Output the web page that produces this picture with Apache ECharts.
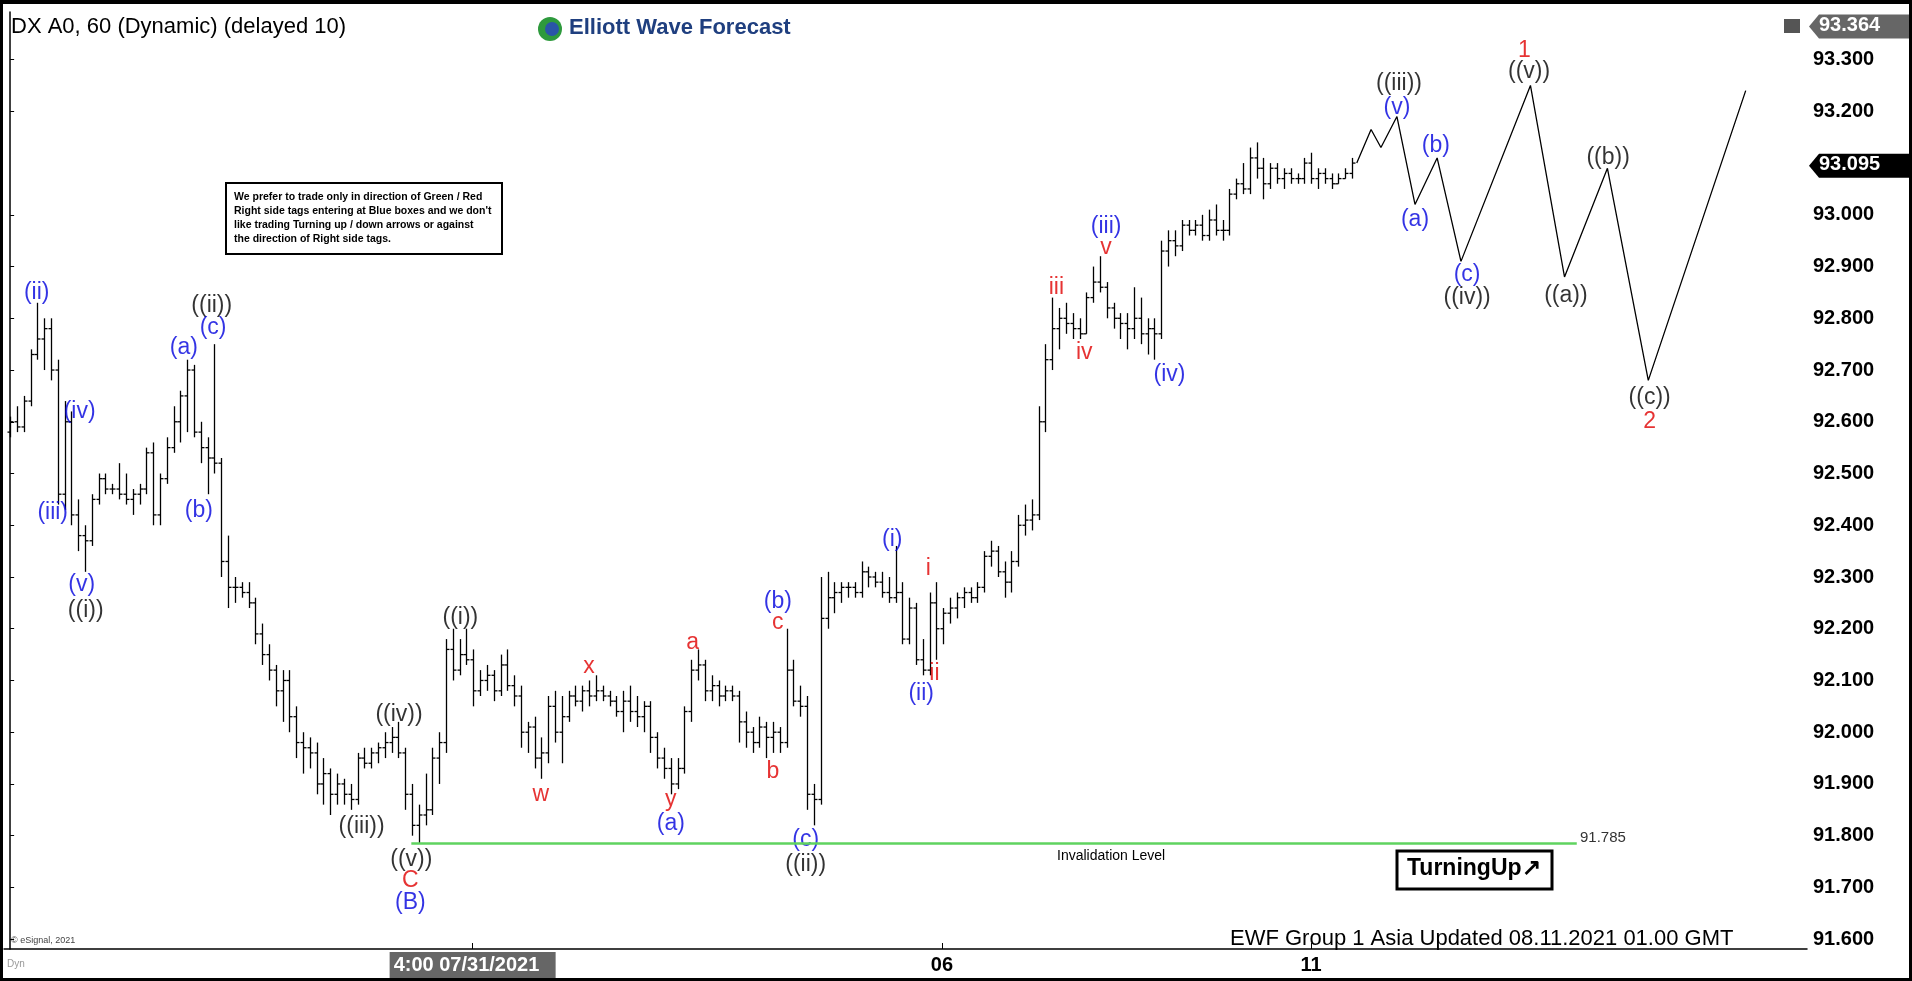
<!DOCTYPE html>
<html><head><meta charset="utf-8">
<script src="https://cdn.jsdelivr.net/npm/echarts@6/dist/echarts.min.js"></script>
<style>html,body{margin:0;padding:0;background:#000;}#c{position:absolute;left:3px;top:4px;width:1906px;height:974px;}</style>
</head><body><div id="c"></div>
<script>
// OHLC hourly bars [open, high, low, close]
const ohlc = [
[92.58,92.61,92.57,92.60],[92.60,92.63,92.58,92.59],[92.59,92.65,92.58,92.64],[92.64,92.74,92.63,92.73],[92.73,92.83,92.72,92.76],
[92.76,92.80,92.70,92.78],[92.78,92.80,92.68,92.70],[92.70,92.72,92.44,92.46],[92.46,92.64,92.43,92.60],[92.60,92.62,92.40,92.42],
[92.42,92.45,92.35,92.38],[92.38,92.40,92.31,92.37],[92.37,92.46,92.36,92.45],[92.45,92.50,92.44,92.49],[92.49,92.50,92.46,92.47],
[92.47,92.48,92.46,92.47],[92.47,92.52,92.45,92.46],[92.46,92.50,92.44,92.45],[92.45,92.47,92.42,92.46],[92.46,92.48,92.44,92.47],
[92.47,92.55,92.46,92.54],[92.54,92.56,92.40,92.42],[92.42,92.50,92.40,92.49],[92.49,92.57,92.48,92.55],[92.55,92.63,92.54,92.60],
[92.60,92.66,92.56,92.65],[92.65,92.72,92.58,92.70],[92.70,92.71,92.57,92.58],[92.58,92.60,92.52,92.55],[92.55,92.57,92.46,92.53],
[92.53,92.75,92.50,92.52],[92.52,92.53,92.30,92.33],[92.33,92.38,92.24,92.28],[92.28,92.30,92.25,92.28],[92.28,92.29,92.26,92.27],
[92.27,92.29,92.24,92.25],[92.25,92.26,92.17,92.19],[92.19,92.21,92.13,92.15],[92.15,92.17,92.10,92.12],[92.12,92.13,92.05,92.08],
[92.08,92.12,92.02,92.10],[92.10,92.12,92.00,92.03],[92.03,92.05,91.95,91.98],[91.98,92.00,91.92,91.97],[91.97,91.99,91.93,91.96],
[91.96,91.98,91.88,91.90],[91.90,91.95,91.86,91.92],[91.92,91.93,91.84,91.88],[91.88,91.92,91.86,91.90],[91.90,91.91,91.86,91.88],
[91.88,91.90,91.85,91.87],[91.87,91.96,91.86,91.95],[91.95,91.97,91.93,91.94],[91.94,91.97,91.93,91.96],[91.96,91.98,91.94,91.97],
[91.97,92.00,91.95,91.98],[91.98,92.01,91.96,91.99],[91.99,92.02,91.95,91.96],[91.96,91.97,91.85,91.88],[91.88,91.90,91.80,91.82],
[91.82,91.86,91.785,91.84],[91.84,91.92,91.82,91.85],[91.85,91.97,91.84,91.95],[91.95,92.00,91.90,91.98],[91.98,92.18,91.96,92.16],
[92.16,92.20,92.10,92.12],[92.12,92.18,92.11,92.15],[92.15,92.20,92.13,92.14],[92.14,92.16,92.05,92.08],[92.08,92.12,92.07,92.10],
[92.10,92.13,92.08,92.11],[92.11,92.12,92.06,92.08],[92.08,92.15,92.07,92.13],[92.13,92.16,92.08,92.09],[92.09,92.11,92.05,92.07],
[92.07,92.09,91.97,92.00],[92.00,92.02,91.96,92.01],[92.01,92.03,91.93,91.95],[91.95,91.99,91.91,91.96],[91.96,92.07,91.94,92.05],
[92.05,92.08,91.98,92.00],[92.00,92.07,91.94,92.03],[92.03,92.08,92.02,92.07],[92.07,92.09,92.05,92.06],[92.06,92.09,92.04,92.08],
[92.08,92.10,92.05,92.07],[92.07,92.11,92.06,92.08],[92.08,92.09,92.06,92.07],[92.07,92.08,92.05,92.06],[92.06,92.07,92.03,92.04],
[92.04,92.08,92.00,92.06],[92.06,92.09,92.02,92.04],[92.04,92.07,92.01,92.03],[92.03,92.06,92.00,92.05],[92.05,92.06,91.96,91.99],
[91.99,92.00,91.93,91.95],[91.95,91.97,91.91,91.93],[91.93,91.95,91.88,91.90],[91.90,91.95,91.89,91.93],[91.93,92.05,91.92,92.04],
[92.04,92.14,92.02,92.12],[92.12,92.16,92.10,92.13],[92.13,92.14,92.06,92.08],[92.08,92.11,92.06,92.09],[92.09,92.10,92.05,92.07],
[92.07,92.09,92.06,92.08],[92.08,92.09,92.06,92.07],[92.07,92.08,91.98,92.02],[92.02,92.04,91.97,92.00],[92.00,92.01,91.96,91.98],
[91.98,92.03,91.97,92.01],[92.01,92.02,91.95,91.99],[91.99,92.02,91.96,92.00],[92.00,92.01,91.96,91.98],[91.98,92.20,91.97,92.12],
[92.12,92.14,92.05,92.06],[92.06,92.09,92.03,92.05],[92.05,92.07,91.85,91.88],[91.88,91.90,91.82,91.87],[91.87,92.30,91.86,92.22],
[92.22,92.31,92.20,92.26],[92.26,92.29,92.23,92.27],[92.27,92.29,92.25,92.28],[92.28,92.29,92.26,92.28],[92.28,92.29,92.26,92.27],
[92.27,92.33,92.26,92.31],[92.31,92.32,92.28,92.30],[92.30,92.31,92.28,92.29],[92.29,92.31,92.26,92.27],[92.27,92.30,92.25,92.26],
[92.26,92.36,92.25,92.27],[92.27,92.29,92.17,92.18],[92.18,92.26,92.17,92.24],[92.24,92.25,92.13,92.14],[92.14,92.18,92.11,92.12],
[92.12,92.27,92.11,92.25],[92.25,92.29,92.14,92.20],[92.20,92.24,92.17,92.23],[92.23,92.26,92.21,92.24],[92.24,92.27,92.22,92.26],
[92.26,92.28,92.24,92.27],[92.27,92.28,92.25,92.26],[92.26,92.29,92.25,92.28],[92.28,92.35,92.27,92.34],[92.34,92.37,92.32,92.35],
[92.35,92.36,92.30,92.31],[92.31,92.33,92.26,92.29],[92.29,92.35,92.27,92.33],[92.33,92.42,92.32,92.40],[92.40,92.44,92.38,92.41],
[92.41,92.45,92.39,92.42],[92.42,92.63,92.41,92.60],[92.60,92.75,92.58,92.72],[92.72,92.84,92.70,92.78],[92.78,92.82,92.74,92.80],
[92.80,92.83,92.77,92.79],[92.79,92.81,92.76,92.78],[92.78,92.80,92.76,92.77],[92.77,92.85,92.77,92.84],[92.84,92.90,92.83,92.87],
[92.87,92.92,92.85,92.86],[92.86,92.87,92.80,92.82],[92.82,92.83,92.78,92.80],[92.80,92.81,92.76,92.79],[92.79,92.81,92.74,92.78],
[92.78,92.86,92.76,92.80],[92.80,92.84,92.75,92.77],[92.77,92.80,92.73,92.78],[92.78,92.80,92.72,92.77],[92.77,92.95,92.76,92.93],
[92.93,92.97,92.90,92.95],[92.95,92.97,92.92,92.94],[92.94,92.99,92.93,92.98],[92.98,92.99,92.96,92.97],[92.97,92.99,92.96,92.98],
[92.98,93.00,92.95,92.96],[92.96,93.01,92.95,92.99],[92.99,93.02,92.96,92.97],[92.97,92.99,92.95,92.97],[92.97,93.05,92.96,93.04],
[93.04,93.07,93.03,93.06],[93.06,93.10,93.04,93.05],[93.05,93.13,93.04,93.11],[93.11,93.14,93.07,93.09],[93.09,93.11,93.03,93.06],
[93.06,93.10,93.05,93.09],[93.09,93.10,93.06,93.07],[93.07,93.09,93.05,93.08],[93.08,93.09,93.06,93.07],[93.07,93.08,93.06,93.07],
[93.07,93.11,93.06,93.10],[93.10,93.12,93.06,93.07],[93.07,93.09,93.05,93.08],[93.08,93.09,93.06,93.07],[93.07,93.08,93.05,93.06],
[93.06,93.08,93.06,93.07],[93.07,93.09,93.07,93.08],[93.08,93.11,93.07,93.10]
];
// projected wave path [bar index, price]
const projection = [[197.7,93.10],[199.8,93.165],[201.25,93.13],[203.6,93.19],[206.25,93.02],[209.5,93.11],[213,92.91],[223.2,93.25],[228.2,92.88],[234.5,93.09],[240.5,92.68],[254.8,93.24]];
const invalidation = 91.785;
const invalidRange = [58.9, 230];
const xTicks = [[67.9,'4:00 07/31/2021'],[136.8,'06'],[191,'11']];
const yTicks = [91.6,91.7,91.8,91.9,92.0,92.1,92.2,92.3,92.4,92.5,92.6,92.7,92.8,92.9,93.0,93.2,93.3];
const lastPrice = 93.095, highTag = 93.364;
// wave labels [text, bar index, price, color]
const B='#0000dd',R='#e00000',K='#000';
const waveLabels = [
['(ii)',3.9,92.85,B],['(iv)',10.2,92.62,B],['(iii)',6.25,92.425,B],['(v)',10.5,92.286,B],['((i))',11.1,92.234,K],
['(a)',25.5,92.744,B],['((ii))',29.6,92.824,K],['(c)',29.8,92.781,B],['(b)',27.7,92.428,B],
['((iv))',57.1,92.034,K],['((iii))',51.6,91.817,K],['((v))',58.9,91.753,K],['C',58.75,91.713,R],['(B)',58.75,91.671,B],
['((i))',66.1,92.222,K],['w',77.9,91.88,R],['x',85,92.126,R],['y',97,91.869,R],['(a)',97,91.824,B],
['a',100.2,92.173,R],['c',112.7,92.211,R],['(b)',112.7,92.252,B],['b',112,91.923,R],['(c)',116.8,91.793,B],['((ii))',116.8,91.744,K],
['(i)',129.5,92.373,B],['i',134.8,92.317,R],['ii',135.7,92.114,R],['(ii)',133.75,92.074,B],
['iii',153.6,92.859,R],['iv',157.7,92.734,R],['(iii)',160.9,92.977,B],['v',160.9,92.937,R],['(iv)',170.2,92.692,B],
['((iii))',203.9,93.253,K],['(v)',203.6,93.208,B],['(a)',206.25,92.991,B],['(b)',209.3,93.133,B],['(c)',213.9,92.885,B],['((iv))',213.9,92.84,K],
['1',222.3,93.317,R],['((v))',223,93.276,K],['((b))',234.6,93.111,K],['((a))',228.4,92.843,K],['((c))',240.7,92.647,K],['2',240.7,92.6,R]
];

const chart = echarts.init(document.getElementById('c'));
const F = '"Liberation Sans", Arial, sans-serif';
const xmap = {}; xTicks.forEach((t,i)=>xmap[t[0]]= i===0 ? '' : t[1]);
const option = {
  backgroundColor:'#fff', animation:false,
  grid:{left:1,right:102,top:8,bottom:29},
  xAxis:{type:'value',min:-0.9,max:263.8,splitLine:{show:false},
    axisLine:{onZero:false,lineStyle:{color:'#000',width:1.5}},
    axisTick:{customValues:xTicks.map(t=>t[0]),length:-6,lineStyle:{color:'#000'}},
    axisLabel:{customValues:xTicks.map(t=>t[0]),formatter:v=>xmap[v]||'',color:'#000',fontFamily:F,fontWeight:'bold',fontSize:20,margin:6}},
  yAxis:{type:'value',position:'right',min:91.581,max:93.392,scale:true,splitLine:{show:false},
    axisLine:{show:true,lineStyle:{color:'#000',width:1.5}},
    axisTick:{show:true,customValues:yTicks,length:4,lineStyle:{color:'#000'}},
    axisLabel:{customValues:yTicks,formatter:v=>v.toFixed(3),color:'#000',fontFamily:F,fontWeight:'bold',fontSize:20,margin:6}},
  series:[
    {type:'custom',data:ohlc.map((d,i)=>[i,d[0],d[1],d[2],d[3]]),encode:{x:0,y:[2,3]},
     renderItem:(p,api)=>{
       const x=api.value(0);
       const o=api.coord([x,api.value(1)]),h=api.coord([x,api.value(2)]),l=api.coord([x,api.value(3)]),c=api.coord([x,api.value(4)]);
       const px=Math.round(h[0])+0.5,s={stroke:'#000',lineWidth:1.3};
       return {type:'group',children:[
         {type:'line',shape:{x1:px,y1:h[1],x2:px,y2:l[1]},style:s},
         {type:'line',shape:{x1:px-3,y1:o[1],x2:px,y2:o[1]},style:s},
         {type:'line',shape:{x1:px,y1:c[1],x2:px+3,y2:c[1]},style:s}]};
     }},
    {type:'line',data:projection,symbol:'none',lineStyle:{color:'#000',width:1.3}},
    {type:'line',data:[[invalidRange[0],invalidation],[invalidRange[1],invalidation]],symbol:'none',lineStyle:{color:'#5fd35f',width:2.5}},
    {type:'scatter',symbolSize:0,data:waveLabels.map(w=>({value:[w[1],w[2]],label:{formatter:w[0],color:w[3]}})),
     label:{show:true,position:'inside',fontFamily:F,fontSize:23},silent:true}
  ],
  graphic:[
    {type:'text',left:8,top:12,style:{text:'DX A0, 60 (Dynamic) (delayed 10)',fontFamily:F,fontSize:22,fill:'#000'}},
    {type:'circle',shape:{cx:547,cy:25,r:12},style:{fill:'#2e9a3d'}},
    {type:'circle',shape:{cx:549,cy:25,r:7},style:{fill:'#2a55a8'}},
    {type:'text',left:566,top:13,style:{text:'Elliott Wave Forecast',fontFamily:F,fontWeight:'bold',fontSize:22,fill:'#1f3f7f'}},
    {type:'rect',shape:{x:223,y:179,width:276,height:71},style:{fill:'#fff',stroke:'#000',lineWidth:2}},
    {type:'text',left:231,top:186,style:{text:"We prefer to trade only in direction of Green / Red\nRight side tags entering at Blue boxes and we don't\nlike trading Turning up / down arrows or against\nthe direction of Right side tags.",fontFamily:F,fontWeight:'bold',fontSize:10.5,lineHeight:14,fill:'#000'}},
    {type:'text',left:1054,top:845,style:{text:'Invalidation Level',fontFamily:F,fontSize:14,fill:'#000'}},
    {type:'text',left:1577,top:826,style:{text:'91.785',fontFamily:F,fontSize:15,fill:'#333'}},
    {type:'rect',shape:{x:1394,y:847,width:155,height:38},style:{fill:'#fff',stroke:'#000',lineWidth:3}},
    {type:'text',left:1404,top:853,style:{text:'TurningUp\u2197',fontFamily:F,fontWeight:'bold',fontSize:23,fill:'#000'}},
    {type:'text',left:1227,top:924,style:{text:'EWF Group 1 Asia Updated 08.11.2021 01.00 GMT',fontFamily:F,fontSize:22,fill:'#000'}},
    {type:'text',left:8,top:932,style:{text:'\u00a9 eSignal, 2021',fontFamily:F,fontSize:9,fill:'#444'}},
    {type:'text',left:4,top:955,style:{text:'Dyn',fontFamily:F,fontSize:10,fill:'#999'}},
    {type:'rect',shape:{x:1781,y:15,width:16,height:14},style:{fill:'#555'}}
  ]
};
chart.setOption(option);
const yH = chart.convertToPixel({gridIndex:0},[0,highTag])[1];
const yL = chart.convertToPixel({gridIndex:0},[0,lastPrice])[1];
const xd = chart.convertToPixel({gridIndex:0},[xTicks[0][0],91.6])[0];
const g = option.graphic.slice();
g.push({type:'polygon',shape:{points:[[1806,yH],[1816,yH-12],[1906,yH-12],[1906,yH+12],[1816,yH+12]]},style:{fill:'#666'}});
g.push({type:'text',x:1816,y:yH-11,style:{text:highTag.toFixed(3),fontFamily:F,fontWeight:'bold',fontSize:20,fill:'#fff'}});
g.push({type:'polygon',shape:{points:[[1806,yL],[1816,yL-12],[1906,yL-12],[1906,yL+12],[1816,yL+12]]},style:{fill:'#000'}});
g.push({type:'text',x:1816,y:yL-11,style:{text:lastPrice.toFixed(3),fontFamily:F,fontWeight:'bold',fontSize:20,fill:'#fff'}});
g.push({type:'rect',shape:{x:xd-83,y:948,width:166,height:26},style:{fill:'#666'}});
g.push({type:'text',x:xd-79,y:951,style:{text:xTicks[0][1],fontFamily:F,fontWeight:'bold',fontSize:20,fill:'#fff'}});
chart.setOption({graphic:g});
</script></body></html>
